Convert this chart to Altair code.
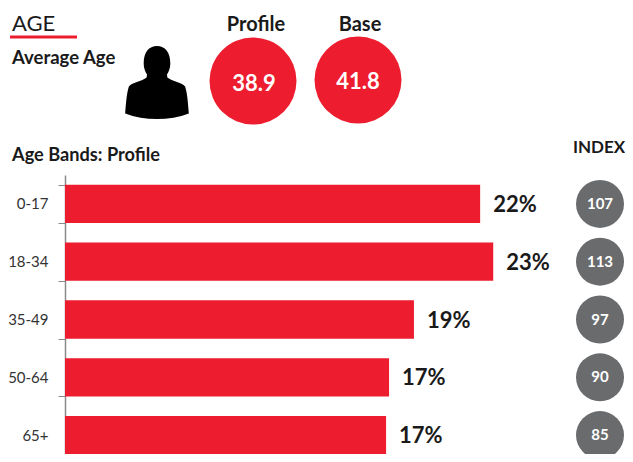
import altair as alt
import pandas as pd

bands = ["0-17", "18-34", "35-49", "50-64", "65+"]
shares = [22.2, 22.9, 18.66, 17.33, 17.17]
share_labels = ["22%", "23%", "19%", "17%", "17%"]
index_vals = [107, 113, 97, 90, 85]

RED = "#ED1C2E"
GREY = "#696B6D"
INK = "#1a1a1a"
FONT = "Lato"
OX, OY = 8, 8  # page margin


def X(v):
    return v - OX


def Y(v):
    return v - OY


df = pd.DataFrame({"band": bands, "share": shares, "label": share_labels, "idx": index_vals})

y_enc = alt.Y(
    "band:N",
    sort=bands,
    title=None,
    scale=alt.Scale(range=[Y(175), Y(464)], paddingInner=0.337, paddingOuter=0.168),
    axis=alt.Axis(
        offset=-X(65),
        domainColor="#8a8a8a",
        domainWidth=1.5,
        tickColor="#8a8a8a",
        tickSize=7,
        tickWidth=1,
        tickBand="extent",
        labelFont=FONT,
        labelFontSize=15,
        labelColor="#333333",
        labelPadding=10,
        grid=False,
    ),
)
x_enc = alt.X(
    "share:Q",
    axis=None,
    scale=alt.Scale(domain=[0, 25], range=[X(65), X(65 + 18.7 * 25)]),
)

bars = alt.Chart(df).mark_bar(color=RED).encode(x=x_enc, y=y_enc)
bar_labels = (
    alt.Chart(df)
    .mark_text(align="left", baseline="middle", dx=13, dy=1, font=FONT, fontSize=22, fontWeight="bold", color=INK)
    .encode(x=x_enc, y=alt.Y("band:N", sort=bands), text="label:N")
)
idx_dots = (
    alt.Chart(df)
    .mark_point(shape="circle", filled=True, opacity=1, color=GREY, size=2304)
    .encode(x=alt.value(X(600)), y=alt.Y("band:N", sort=bands))
)
idx_text = (
    alt.Chart(df)
    .mark_text(baseline="middle", font=FONT, fontSize=15, fontWeight="bold", color="white")
    .encode(x=alt.value(X(600)), y=alt.Y("band:N", sort=bands), text="idx:N")
)


def text(label, x, y, size, weight="bold", color=INK, align="left", baseline="alphabetic"):
    return (
        alt.Chart(pd.DataFrame({"t": [label]}))
        .mark_text(align=align, baseline=baseline, font=FONT, fontSize=size, fontWeight=weight, color=color)
        .encode(x=alt.value(X(x)), y=alt.value(Y(y)), text="t:N")
    )


def disc(x, y, size, color):
    return (
        alt.Chart(pd.DataFrame({"t": [1]}))
        .mark_point(shape="circle", filled=True, opacity=1, color=color, size=size)
        .encode(x=alt.value(X(x)), y=alt.value(Y(y)))
    )


underline = (
    alt.Chart(pd.DataFrame({"t": [1]}))
    .mark_rule(color=RED, strokeWidth=3)
    .encode(x=alt.value(X(10)), x2=alt.value(X(77)), y=alt.value(Y(37)))
)

PERSON = (
    "M0,-.97 C.22,-.97 .36,-.8 .36,-.5 C.36,-.38 .32,-.28 .27,-.2 L.28,-.12 "
    "C.4,-.02 .7,.03 .76,.12 C.82,.3 .84,.6 .86,.85 C.6,.95 .3,1 0,1 "
    "C-.3,1 -.6,.95 -.86,.85 C-.84,.6 -.82,.3 -.76,.12 C-.7,.03 -.4,-.02 -.28,-.12 "
    "L-.27,-.2 C-.32,-.28 -.36,-.38 -.36,-.5 C-.36,-.8 -.22,-.97 0,-.97 Z"
)
person = (
    alt.Chart(pd.DataFrame({"t": [1]}))
    .mark_point(shape=PERSON, filled=True, opacity=1, color="black", size=74 * 74)
    .encode(x=alt.value(X(157)), y=alt.value(Y(82)))
)

chart = alt.layer(
    bars,
    bar_labels,
    idx_dots,
    idx_text,
    underline,
    person,
    disc(253, 81, 87 * 87, RED),
    disc(358, 80, 87 * 87, RED),
    text("AGE", 12, 31, 22, weight="normal"),
    text("Average Age", 12, 64, 18.5),
    text("Profile", 256, 31, 20, align="center"),
    text("Base", 360, 31, 20, align="center"),
    text("38.9", 254, 91, 22, color="white", align="center"),
    text("41.8", 358, 89, 22, color="white", align="center"),
    text("Age Bands: Profile", 12, 161, 18.2),
    text("INDEX", 599, 153, 17, align="center"),
).properties(
    width=617,
    height=446,
    autosize=alt.AutoSizeParams(type="none"),
    padding=0,
    background="white",
).configure_view(stroke=None)

chart.save("out.html", embed_options={"renderer": "svg", "actions": False})
